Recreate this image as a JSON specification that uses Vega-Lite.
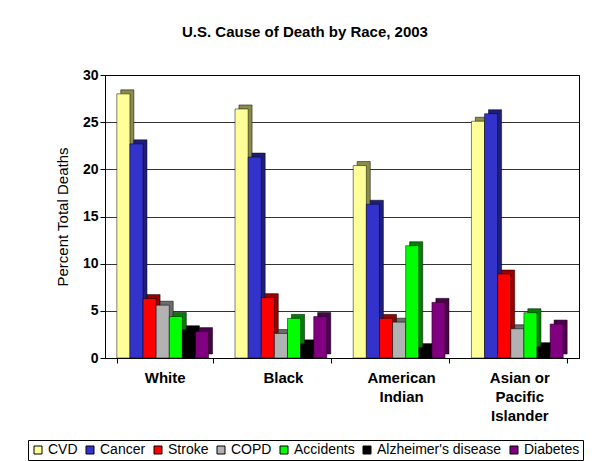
{
  "$schema": "https://vega.github.io/schema/vega-lite/v6.json",
  "width": 474,
  "height": 283,
  "autosize": {"type": "none"},
  "padding": {"left": 105, "top": 75, "right": 32, "bottom": 103},
  "background": "white",
  "title": {"text": "U.S. Cause of Death by Race, 2003", "font": "Liberation Sans", "fontSize": 15, "fontWeight": "bold", "color": "black", "anchor": "middle", "dx": -37, "offset": 28},
  "config": {"view": {"stroke": "black", "strokeWidth": 1}, "font": "Liberation Sans"},
  "data": {"values": [
    {"race": "White", "cause": "CVD", "value": 28.0},
    {"race": "White", "cause": "Cancer", "value": 22.7},
    {"race": "White", "cause": "Stroke", "value": 6.3},
    {"race": "White", "cause": "COPD", "value": 5.6},
    {"race": "White", "cause": "Accidents", "value": 4.4},
    {"race": "White", "cause": "Alzheimer's disease", "value": 3.0},
    {"race": "White", "cause": "Diabetes", "value": 2.8},
    {"race": "Black", "cause": "CVD", "value": 26.4},
    {"race": "Black", "cause": "Cancer", "value": 21.3},
    {"race": "Black", "cause": "Stroke", "value": 6.4},
    {"race": "Black", "cause": "COPD", "value": 2.6},
    {"race": "Black", "cause": "Accidents", "value": 4.2},
    {"race": "Black", "cause": "Alzheimer's disease", "value": 1.5},
    {"race": "Black", "cause": "Diabetes", "value": 4.4},
    {"race": "American Indian", "cause": "CVD", "value": 20.4},
    {"race": "American Indian", "cause": "Cancer", "value": 16.3},
    {"race": "American Indian", "cause": "Stroke", "value": 4.2},
    {"race": "American Indian", "cause": "COPD", "value": 3.8},
    {"race": "American Indian", "cause": "Accidents", "value": 11.9},
    {"race": "American Indian", "cause": "Alzheimer's disease", "value": 1.1},
    {"race": "American Indian", "cause": "Diabetes", "value": 5.9},
    {"race": "Asian or Pacific Islander", "cause": "CVD", "value": 25.1},
    {"race": "Asian or Pacific Islander", "cause": "Cancer", "value": 25.9},
    {"race": "Asian or Pacific Islander", "cause": "Stroke", "value": 8.9},
    {"race": "Asian or Pacific Islander", "cause": "COPD", "value": 3.1},
    {"race": "Asian or Pacific Islander", "cause": "Accidents", "value": 4.8},
    {"race": "Asian or Pacific Islander", "cause": "Alzheimer's disease", "value": 1.2},
    {"race": "Asian or Pacific Islander", "cause": "Diabetes", "value": 3.6}
  ]},
  "encoding": {
    "x": {"field": "race", "type": "nominal", "sort": ["White", "Black", "American Indian", "Asian or Pacific Islander"],
      "scale": {"paddingInner": 0.19, "paddingOuter": 0.1},
      "axis": {"title": null, "labelAngle": 0, "labelFontSize": 15, "labelFontWeight": "bold", "labelColor": "black", "labelPadding": 7, "labelLineHeight": 19, "tickBand": "extent", "tickColor": "black", "tickSize": 5, "domainColor": "black",
        "labelExpr": "datum.label == 'American Indian' ? ['American', 'Indian'] : datum.label == 'Asian or Pacific Islander' ? ['Asian or', 'Pacific', 'Islander'] : datum.label"}},
    "y": {"field": "value", "type": "quantitative", "scale": {"domain": [0, 30], "nice": false},
      "axis": {"title": "Percent Total Deaths", "titleFontSize": 15, "titleFontWeight": "normal", "titleColor": "black", "titlePadding": 12, "values": [0, 5, 10, 15, 20, 25, 30], "labelFontSize": 14, "labelFontWeight": "bold", "labelColor": "black", "tickColor": "black", "tickSize": 5, "domainColor": "black", "gridColor": "black", "gridOpacity": 0.8}}
  },
  "layer": [
    {
      "mark": {"type": "bar", "yOffset": -4, "stroke": "black", "strokeWidth": 0.5},
      "encoding": {
        "xOffset": {"field": "cause", "type": "nominal", "sort": ["CVD", "Cancer", "Stroke", "COPD", "Accidents", "Alzheimer's disease", "Diabetes"], "scale": {"paddingOuter": 0.15, "align": 1}},
        "color": {"field": "cause", "type": "nominal", "legend": null, "sort": ["CVD", "Cancer", "Stroke", "COPD", "Accidents", "Alzheimer's disease", "Diabetes"],
          "scale": {"domain": ["CVD", "Cancer", "Stroke", "COPD", "Accidents", "Alzheimer's disease", "Diabetes"], "range": ["#8c8c4a", "#1f1f7a", "#990000", "#6b6b6b", "#008000", "#000000", "#4d004d"]}}
      }
    },
    {
      "mark": {"type": "bar", "stroke": "black", "strokeWidth": 0.5},
      "encoding": {
        "xOffset": {"field": "cause", "type": "nominal", "sort": ["CVD", "Cancer", "Stroke", "COPD", "Accidents", "Alzheimer's disease", "Diabetes"], "scale": {"paddingOuter": 0.15, "align": 0}},
        "color": {"field": "cause", "type": "nominal", "sort": ["CVD", "Cancer", "Stroke", "COPD", "Accidents", "Alzheimer's disease", "Diabetes"],
          "scale": {"domain": ["CVD", "Cancer", "Stroke", "COPD", "Accidents", "Alzheimer's disease", "Diabetes"], "range": ["#ffff99", "#3333cc", "#ff0000", "#b2b2b2", "#00ff00", "#000000", "#800080"]},
          "legend": {"orient": "none", "legendX": -77, "legendY": 365, "direction": "horizontal", "columns": 7, "title": null, "strokeColor": "black", "padding": 3, "symbolType": "square", "symbolSize": 64, "symbolStrokeColor": "black", "symbolStrokeWidth": 1, "labelFontSize": 14, "labelColor": "black", "columnPadding": 5, "labelOffset": 3}}
      }
    }
  ],
  "resolve": {"scale": {"color": "independent", "xOffset": "independent"}}
}
